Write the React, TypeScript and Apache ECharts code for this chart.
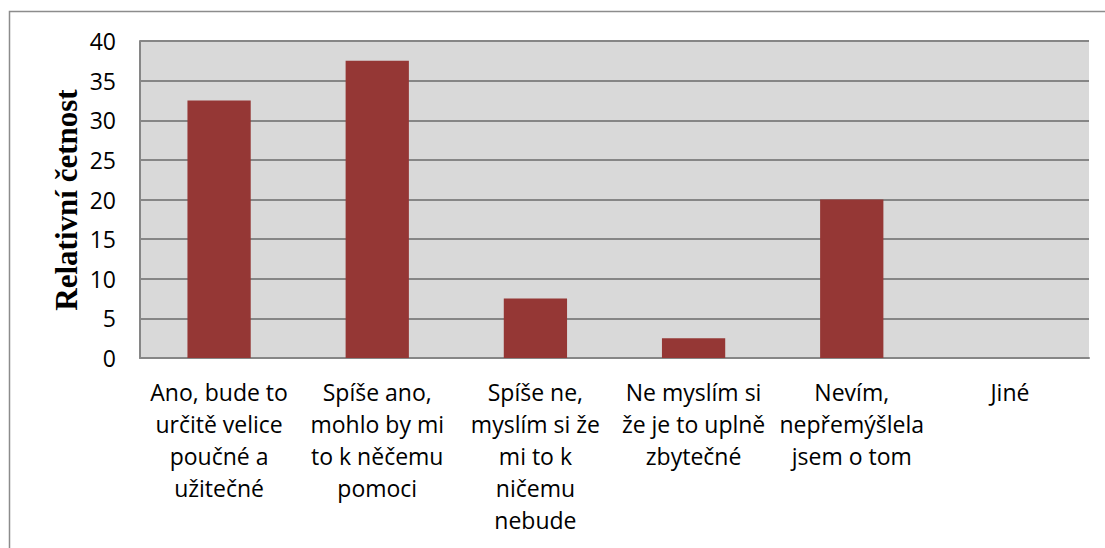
import React, { useEffect, useRef } from "react";
import * as echarts from "echarts";

const categories = [
  "Ano, bude to\nurčitě velice\npoučné a\nužitečné",
  "Spíše ano,\nmohlo by mi\nto k něčemu\npomoci",
  "Spíše ne,\nmyslím si že\nmi to k\nničemu\nnebude",
  "Ne myslím si\nže je to uplně\nzbytečné",
  "Nevím,\nnepřemýšlela\njsem o tom",
  "Jiné",
];
const values = [32.5, 37.5, 7.5, 2.5, 20, 0];
const yAxisTitle = "Relativní četnost";

export default function App() {
  const ref = useRef<HTMLDivElement>(null);
  useEffect(() => {
    if (!ref.current) return;
    const chart = echarts.init(ref.current, null, { renderer: "svg" });
    chart.setOption({
      animation: false,
      backgroundColor: "#ffffff",
      grid: {
        left: 140,
        top: 41,
        right: 16,
        bottom: 190,
        show: true,
        backgroundColor: "#d9d9d9",
        borderWidth: 0,
      },
      xAxis: {
        type: "category",
        data: categories,
        axisTick: { show: false },
        axisLine: { show: true, lineStyle: { color: "#868686", width: 2 } },
        axisLabel: {
          interval: 0,
          margin: 18,
          color: "#000",
          fontFamily: "Open Sans",
          fontSize: 23,
          lineHeight: 32,
          align: "center",
          verticalAlign: "top",
        },
      },
      yAxis: {
        type: "value",
        min: 0,
        max: 40,
        interval: 5,
        axisLine: { show: true, lineStyle: { color: "#868686", width: 2 } },
        axisTick: { show: false },
        splitLine: { show: true, lineStyle: { color: "#868686", width: 2 } },
        axisLabel: {
          margin: 24,
          color: "#000",
          fontFamily: "Open Sans",
          fontSize: 23,
        },
      },
      graphic: [
        {
          type: "rect",
          shape: { x: 9.5, y: 11.5, width: 1200, height: 600 },
          style: { fill: "none", stroke: "#8c8c8c", lineWidth: 1.5 },
          silent: true,
        },
        {
          type: "text",
          x: 66,
          y: 200,
          rotation: Math.PI / 2,
          style: {
            text: yAxisTitle,
            fontFamily: "Liberation Serif",
            fontWeight: "bold",
            fontSize: 31,
            fill: "#000",
            align: "center",
            verticalAlign: "middle",
          },
        },
      ],
      series: [
        {
          type: "bar",
          data: values,
          barWidth: "40%",
          itemStyle: { color: "#953735" },
        },
      ],
    });
    return () => chart.dispose();
  }, []);
  return (
    <div
      ref={ref}
      style={{ position: "fixed", left: 0, top: 0, width: 1105, height: 548 }}
    />
  );
}
